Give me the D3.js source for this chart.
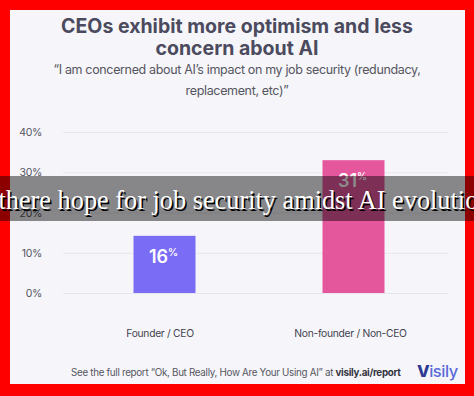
<!DOCTYPE html>
<html lang="en">
<head>
    <meta charset="UTF-8">
    <title>CEOs exhibit more optimism</title>
    <script src="https://d3js.org/d3.v7.min.js"></script>
    <style>
        body {
            margin: 0;
            padding: 0;
            background-color: #ff0000;
        }
        svg {
            display: block;
        }
    </style>
</head>
<body>
    <div id="chart"></div>
    <script>
        // data
        const categories = ["Founder / CEO", "Non-founder / Non-CEO"];
        const values = [14.2, 33];              // bar heights against the axis
        const valueLabels = ["16", "31"];       // printed on the bars
        const yTicks = [0, 10, 20, 30, 40];
        const barColors = ["#7b6cf6", "#e5579d"];

        const width = 474;
        const height = 396;

        const svg = d3.select("#chart")
            .append("svg")
            .attr("width", width)
            .attr("height", height);

        // red frame + panel
        svg.append("rect")
            .attr("width", width).attr("height", height)
            .attr("fill", "#ff0000");
        svg.append("rect")
            .attr("x", 10).attr("y", 10)
            .attr("width", 455).attr("height", 374)
            .attr("fill", "#f6f6fa");

        // titles
        const titleLines = ["CEOs exhibit more optimism and less", "concern about AI"];
        svg.selectAll(".title")
            .data(titleLines)
            .enter()
            .append("text")
            .attr("class", "title")
            .attr("x", 237)
            .attr("y", (d, i) => 33 + i * 22)
            .attr("text-anchor", "middle")
            .attr("font-family", "Inter, 'Open Sans', sans-serif")
            .attr("font-weight", 700)
            .attr("font-size", 19.5)
            .attr("fill", "#4b4a5e")
            .text(d => d);

        const subLines = ["\u201cI am concerned about AI\u2019s impact on my job security (redundacy,", "replacement, etc)\u201d"];
        svg.selectAll(".sub")
            .data(subLines)
            .enter()
            .append("text")
            .attr("class", "sub")
            .attr("x", 237)
            .attr("y", (d, i) => 74 + i * 20.5)
            .attr("text-anchor", "middle")
            .attr("font-family", "Inter, 'Open Sans', sans-serif")
            .attr("font-size", 12.5)
            .attr("letter-spacing", -0.35)
            .attr("fill", "#555560")
            .text(d => d);

        // scales
        const yScale = d3.scaleLinear().domain([0, 40]).range([293, 132]);
        const xScale = d3.scalePoint().domain(categories).range([70, 448]).padding(0.5);
        const barWidth = 62;

        // gridlines + y labels
        const yAxis = d3.axisLeft(yScale)
            .tickValues(yTicks)
            .tickSize(-385)
            .tickFormat(d => d + "%");
        const gy = svg.append("g")
            .attr("transform", "translate(63,0)")
            .call(yAxis);
        gy.select(".domain").remove();
        gy.selectAll(".tick line")
            .attr("stroke", "#e6e6ef")
            .attr("stroke-width", 1);
        gy.selectAll(".tick text")
            .attr("x", -21)
            .attr("dy", "0.35em")
            .attr("text-anchor", "end")
            .attr("font-family", "Inter, sans-serif")
            .attr("font-size", 10.5)
            .attr("letter-spacing", -0.3)
            .attr("fill", "#555560");

        // bars
        svg.selectAll(".bar")
            .data(values)
            .enter()
            .append("rect")
            .attr("class", "bar")
            .attr("x", (d, i) => xScale(categories[i]) - barWidth / 2)
            .attr("y", d => yScale(d))
            .attr("width", barWidth)
            .attr("height", d => yScale(0) - yScale(d))
            .attr("fill", (d, i) => barColors[i]);

        // value labels
        const labels = svg.selectAll(".val")
            .data(values)
            .enter()
            .append("text")
            .attr("class", "val")
            .attr("x", (d, i) => xScale(categories[i]) - 1)
            .attr("y", d => yScale(d) + 27)
            .attr("text-anchor", "middle")
            .attr("font-family", "Inter, sans-serif")
            .attr("font-weight", 600)
            .attr("font-size", 18)
            .attr("fill", "#ffffff");
        labels.append("tspan").text((d, i) => valueLabels[i]);
        labels.append("tspan")
            .attr("font-size", 10)
            .attr("dy", -7)
            .text("%");

        // x labels
        const xAxis = d3.axisBottom(xScale).tickSize(0);
        const gx = svg.append("g")
            .attr("transform", "translate(-5,327)")
            .call(xAxis);
        gx.select(".domain").remove();
        gx.selectAll(".tick text")
            .attr("font-family", "Inter, sans-serif")
            .attr("font-size", 10.3)
            .attr("letter-spacing", -0.3)
            .attr("fill", "#444450");
        gx.selectAll(".tick").filter((d, i) => i === 1).attr("transform", "translate(" + (xScale(categories[1]) + 2) + ",0)");

        // footer
        const foot = svg.append("text")
            .attr("x", 71)
            .attr("y", 376)
            .attr("font-family", "Inter, sans-serif")
            .attr("font-size", 9.8)
            .attr("letter-spacing", -0.3)
            .attr("fill", "#555560");
        foot.append("tspan").text("See the full report \u201cOk, But Really, How Are Your Using AI\u201d at ");
        foot.append("tspan").attr("font-weight", 700).attr("fill", "#333340").text("visily.ai/report");

        // logo
        const logo = svg.append("text")
            .attr("x", 417)
            .attr("y", 377)
            .attr("font-family", "Inter, sans-serif")
            .attr("font-size", 16.5)
            .attr("letter-spacing", -0.5);
        logo.append("tspan").attr("font-weight", 800).attr("fill", "#2d3a94").text("V");
        logo.append("tspan").attr("font-weight", 500).attr("fill", "#5a6bd8").text("isily");

        // banner overlay
        svg.append("rect")
            .attr("x", 0).attr("y", 176)
            .attr("width", width).attr("height", 45)
            .attr("fill", "#000")
            .attr("fill-opacity", 0.45);
        const banner = "Is there hope for job security amidst AI evolution?";
        svg.append("text")
            .attr("x", 238).attr("y", 209)
            .attr("text-anchor", "middle")
            .attr("font-family", "'Liberation Serif', serif")
            .attr("font-size", 26.3)
            .attr("fill", "#000")
            .attr("transform", "translate(1.5,1.5)")
            .text(banner);
        svg.append("text")
            .attr("x", 238).attr("y", 209)
            .attr("text-anchor", "middle")
            .attr("font-family", "'Liberation Serif', serif")
            .attr("font-size", 26.3)
            .attr("fill", "#ffffff")
            .text(banner);
    </script>
</body>
</html>
